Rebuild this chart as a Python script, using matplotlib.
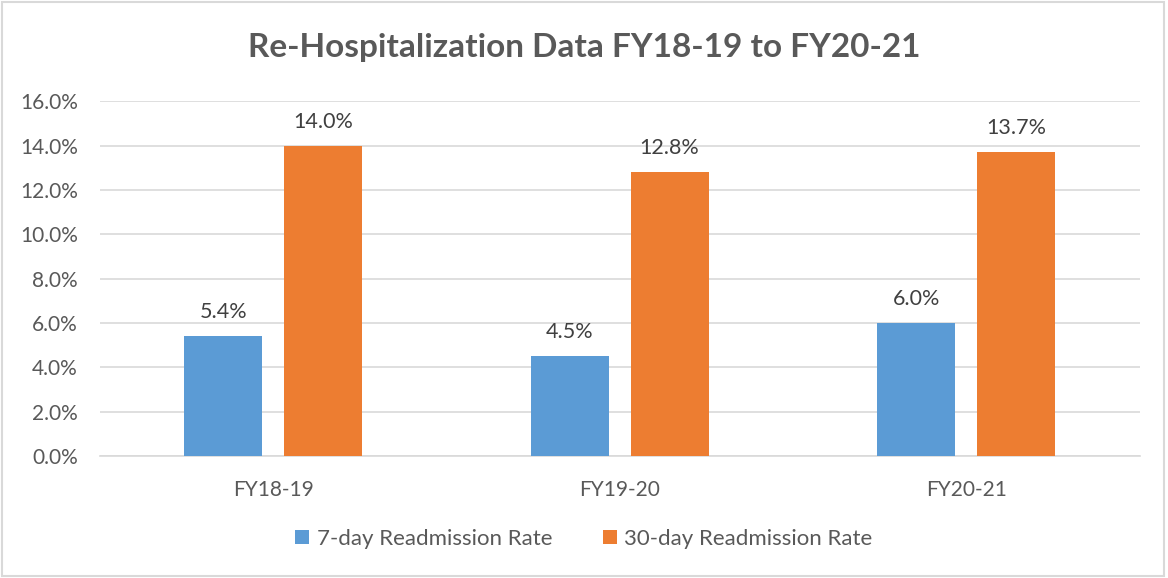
import numpy as np
import matplotlib
matplotlib.use("Agg")
import matplotlib.pyplot as plt
from matplotlib.patches import Rectangle

plt.rcParams["font.family"] = ["Lato", "DejaVu Sans"]

categories = ["FY18-19", "FY19-20", "FY20-21"]
seven_day = [5.4, 4.5, 6.0]
thirty_day = [14.0, 12.8, 13.7]
series_names = ["7-day Readmission Rate", "30-day Readmission Rate"]

BLUE = "#5B9BD5"
ORANGE = "#ED7D31"
TEXT = "#595959"
GRID = "#D9D9D9"

fig = plt.figure(figsize=(11.68, 5.78), dpi=100)
ax = fig.add_axes([0.0856, 0.211, 0.890, 0.614])

x = np.arange(len(categories))
w = 0.225
off = 0.144
b1 = ax.bar(x - off, seven_day, w, color=BLUE, label=series_names[0], zorder=3)
b2 = ax.bar(x + off, thirty_day, w, color=ORANGE, label=series_names[1], zorder=3)

# value labels above each bar
for bars, vals in ((b1, seven_day), (b2, thirty_day)):
    for rect, v in zip(bars, vals):
        ax.annotate(f"{v:.1f}%", (rect.get_x() + rect.get_width() / 2, v),
                    xytext=(0, 10), textcoords="offset points",
                    ha="center", va="bottom", fontsize=15.5, color="#404040")

ax.set_xlim(-0.5, 2.5)
ax.set_ylim(0, 16)
ax.set_yticks(np.arange(0, 16.1, 2))
ax.set_yticklabels([f"{t:.1f}%" for t in np.arange(0, 16.1, 2)])
ax.set_xticks(x)
ax.set_xticklabels(categories)
ax.tick_params(axis="both", length=0, labelsize=15, labelcolor=TEXT)
ax.tick_params(axis="x", pad=17)
ax.tick_params(axis="y", pad=16)
ax.yaxis.grid(True, color=GRID, linewidth=1.2, zorder=0)
for side in ["top", "right", "left"]:
    ax.spines[side].set_visible(False)
ax.spines["bottom"].set_color(GRID)
ax.spines["bottom"].set_linewidth(1.2)

fig.suptitle("Re-Hospitalization Data FY18-19 to FY20-21", x=0.5, y=0.943,
             fontsize=24, fontweight="bold", color=TEXT)

fig.legend(handles=[b1, b2], loc="center", bbox_to_anchor=(0.5, 0.067),
           ncol=2, frameon=False, fontsize=16, labelcolor=TEXT,
           handlelength=0.6, handleheight=0.6, handletextpad=0.35, columnspacing=2.3)

fig.patches.append(Rectangle((0.002, 0.004), 0.995, 0.992, transform=fig.transFigure,
                             fill=False, edgecolor=GRID, linewidth=1.5))

fig.savefig("out.png", dpi=100, facecolor="white")
